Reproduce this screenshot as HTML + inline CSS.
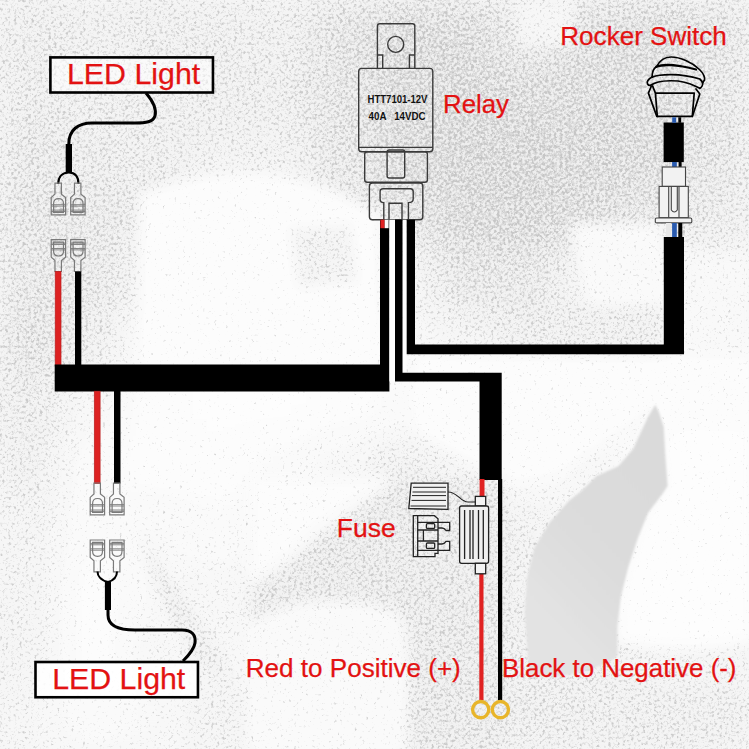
<!DOCTYPE html>
<html><head><meta charset="utf-8">
<style>
html,body{margin:0;padding:0;background:#fff;width:749px;height:749px;overflow:hidden}
svg{position:absolute;left:0;top:0;display:block}
text{font-family:"Liberation Sans",sans-serif}
</style></head><body>
<svg width="749" height="749" viewBox="0 0 749 749">
<defs>
  <linearGradient id="mtn" gradientUnits="userSpaceOnUse" x1="525" y1="600" x2="650" y2="480"><stop offset="0" stop-color="#e3e3e3"/><stop offset="0.5" stop-color="#dcdcdc"/><stop offset="1" stop-color="#dadada"/></linearGradient>
  <filter id="blur6" x="-20%" y="-20%" width="140%" height="140%"><feGaussianBlur stdDeviation="6"/></filter>
  <filter id="blur1" x="-20%" y="-20%" width="140%" height="140%"><feGaussianBlur stdDeviation="1.2"/></filter>
  <filter id="blur4" x="-20%" y="-20%" width="140%" height="140%"><feGaussianBlur stdDeviation="4"/></filter>
  <filter id="tex" x="0" y="0" width="749" height="749" filterUnits="userSpaceOnUse" color-interpolation-filters="sRGB">
    <feColorMatrix in="SourceGraphic" type="matrix" values="-1 0 0 0 1  0 -1 0 0 1  0 0 -1 0 1  0 0 0 0 1" result="dark"/>
    <feTurbulence type="fractalNoise" baseFrequency="0.35" numOctaves="4" seed="7" result="noise"/>
    <feColorMatrix in="noise" type="matrix" values="0.33 0.33 0.33 0 0  0.33 0.33 0.33 0 0  0.33 0.33 0.33 0 0  0 0 0 0 1" result="ng"/>
    <feComposite in="ng" in2="dark" operator="arithmetic" k1="0" k2="6" k3="9.600" k4="-3.780" result="spot"/>
    <feComposite in="spot" in2="dark" operator="arithmetic" k1="0" k2="0.2424" k3="0.7576" k4="0" result="dd"/>
    <feColorMatrix in="dd" type="matrix" values="-0.660 0 0 0 1  0 -0.660 0 0 1  0 0 -0.660 0 1  0 0 0 0 1"/>
  </filter>

  <filter id="blurbg" x="-20%" y="-20%" width="140%" height="140%"><feGaussianBlur stdDeviation="18"/></filter>
  <filter id="blur2" x="-20%" y="-20%" width="140%" height="140%"><feGaussianBlur stdDeviation="2"/></filter>
  <filter id="blur8" x="-10%" y="-10%" width="120%" height="120%"><feGaussianBlur stdDeviation="8"/></filter>
</defs>
<rect x="0" y="0" width="749" height="749" fill="#fff"/>
<g id="bg" filter="url(#tex)">
<rect x="-60" y="-60" width="869" height="869" fill="#eee"/>
<g filter="url(#blurbg)">
<rect x="-0.5" y="-0.5" width="63.4" height="63.4" fill="#e7e7e7"/>
<rect x="61.9" y="-0.5" width="63.4" height="63.4" fill="#e9e9e9"/>
<rect x="124.3" y="-0.5" width="63.4" height="63.4" fill="#e8e8e8"/>
<rect x="186.8" y="-0.5" width="63.4" height="63.4" fill="#e8e8e8"/>
<rect x="249.2" y="-0.5" width="63.4" height="63.4" fill="#e9e9e9"/>
<rect x="311.6" y="-0.5" width="63.4" height="63.4" fill="#e3e3e3"/>
<rect x="374.0" y="-0.5" width="63.4" height="63.4" fill="#dfdfdf"/>
<rect x="436.4" y="-0.5" width="63.4" height="63.4" fill="#e0e0e0"/>
<rect x="498.8" y="-0.5" width="63.4" height="63.4" fill="#e7e7e7"/>
<rect x="561.2" y="-0.5" width="63.4" height="63.4" fill="#e1e1e1"/>
<rect x="623.7" y="-0.5" width="63.4" height="63.4" fill="#e0e0e0"/>
<rect x="686.1" y="-0.5" width="63.4" height="63.4" fill="#e3e3e3"/>
<rect x="-0.5" y="61.9" width="63.4" height="63.4" fill="#e7e7e7"/>
<rect x="61.9" y="61.9" width="63.4" height="63.4" fill="#e8e8e8"/>
<rect x="124.3" y="61.9" width="63.4" height="63.4" fill="#e8e8e8"/>
<rect x="186.8" y="61.9" width="63.4" height="63.4" fill="#e8e8e8"/>
<rect x="249.2" y="61.9" width="63.4" height="63.4" fill="#e8e8e8"/>
<rect x="311.6" y="61.9" width="63.4" height="63.4" fill="#e3e3e3"/>
<rect x="374.0" y="61.9" width="63.4" height="63.4" fill="#dfdfdf"/>
<rect x="436.4" y="61.9" width="63.4" height="63.4" fill="#dfdfdf"/>
<rect x="498.8" y="61.9" width="63.4" height="63.4" fill="#e0e0e0"/>
<rect x="561.2" y="61.9" width="63.4" height="63.4" fill="#e0e0e0"/>
<rect x="623.7" y="61.9" width="63.4" height="63.4" fill="#e0e0e0"/>
<rect x="686.1" y="61.9" width="63.4" height="63.4" fill="#e4e4e4"/>
<rect x="-0.5" y="124.3" width="63.4" height="63.4" fill="#e5e5e5"/>
<rect x="61.9" y="124.3" width="63.4" height="63.4" fill="#e7e7e7"/>
<rect x="124.3" y="124.3" width="63.4" height="63.4" fill="#e8e8e8"/>
<rect x="186.8" y="124.3" width="63.4" height="63.4" fill="#ebebeb"/>
<rect x="249.2" y="124.3" width="63.4" height="63.4" fill="#ebebeb"/>
<rect x="311.6" y="124.3" width="63.4" height="63.4" fill="#e4e4e4"/>
<rect x="374.0" y="124.3" width="63.4" height="63.4" fill="#dfdfdf"/>
<rect x="436.4" y="124.3" width="63.4" height="63.4" fill="#dedede"/>
<rect x="498.8" y="124.3" width="63.4" height="63.4" fill="#dedede"/>
<rect x="561.2" y="124.3" width="63.4" height="63.4" fill="#dfdfdf"/>
<rect x="623.7" y="124.3" width="63.4" height="63.4" fill="#e0e0e0"/>
<rect x="686.1" y="124.3" width="63.4" height="63.4" fill="#e4e4e4"/>
<rect x="-0.5" y="186.8" width="63.4" height="63.4" fill="#e4e4e4"/>
<rect x="61.9" y="186.8" width="63.4" height="63.4" fill="#e5e5e5"/>
<rect x="124.3" y="186.8" width="63.4" height="63.4" fill="#e8e8e8"/>
<rect x="186.8" y="186.8" width="63.4" height="63.4" fill="#f3f3f3"/>
<rect x="249.2" y="186.8" width="63.4" height="63.4" fill="#f3f3f3"/>
<rect x="311.6" y="186.8" width="63.4" height="63.4" fill="#e7e7e7"/>
<rect x="374.0" y="186.8" width="63.4" height="63.4" fill="#e3e3e3"/>
<rect x="436.4" y="186.8" width="63.4" height="63.4" fill="#dfdfdf"/>
<rect x="498.8" y="186.8" width="63.4" height="63.4" fill="#dfdfdf"/>
<rect x="561.2" y="186.8" width="63.4" height="63.4" fill="#e1e1e1"/>
<rect x="623.7" y="186.8" width="63.4" height="63.4" fill="#e4e4e4"/>
<rect x="686.1" y="186.8" width="63.4" height="63.4" fill="#e7e7e7"/>
<rect x="-0.5" y="249.2" width="63.4" height="63.4" fill="#e4e4e4"/>
<rect x="61.9" y="249.2" width="63.4" height="63.4" fill="#e5e5e5"/>
<rect x="124.3" y="249.2" width="63.4" height="63.4" fill="#ededed"/>
<rect x="186.8" y="249.2" width="63.4" height="63.4" fill="#f9f9f9"/>
<rect x="249.2" y="249.2" width="63.4" height="63.4" fill="#f6f6f6"/>
<rect x="311.6" y="249.2" width="63.4" height="63.4" fill="#ebebeb"/>
<rect x="374.0" y="249.2" width="63.4" height="63.4" fill="#ededed"/>
<rect x="436.4" y="249.2" width="63.4" height="63.4" fill="#e4e4e4"/>
<rect x="498.8" y="249.2" width="63.4" height="63.4" fill="#e5e5e5"/>
<rect x="561.2" y="249.2" width="63.4" height="63.4" fill="#efefef"/>
<rect x="623.7" y="249.2" width="63.4" height="63.4" fill="#f3f3f3"/>
<rect x="686.1" y="249.2" width="63.4" height="63.4" fill="#f1f1f1"/>
<rect x="-0.5" y="311.6" width="63.4" height="63.4" fill="#e3e3e3"/>
<rect x="61.9" y="311.6" width="63.4" height="63.4" fill="#e8e8e8"/>
<rect x="124.3" y="311.6" width="63.4" height="63.4" fill="#f6f6f6"/>
<rect x="186.8" y="311.6" width="63.4" height="63.4" fill="#fbfbfb"/>
<rect x="249.2" y="311.6" width="63.4" height="63.4" fill="#f9f9f9"/>
<rect x="311.6" y="311.6" width="63.4" height="63.4" fill="#f9f9f9"/>
<rect x="374.0" y="311.6" width="63.4" height="63.4" fill="#f3f3f3"/>
<rect x="436.4" y="311.6" width="63.4" height="63.4" fill="#ededed"/>
<rect x="498.8" y="311.6" width="63.4" height="63.4" fill="#e8e8e8"/>
<rect x="561.2" y="311.6" width="63.4" height="63.4" fill="#e8e8e8"/>
<rect x="623.7" y="311.6" width="63.4" height="63.4" fill="#f1f1f1"/>
<rect x="686.1" y="311.6" width="63.4" height="63.4" fill="#f6f6f6"/>
<rect x="-0.5" y="374.0" width="63.4" height="63.4" fill="#e7e7e7"/>
<rect x="61.9" y="374.0" width="63.4" height="63.4" fill="#f1f1f1"/>
<rect x="124.3" y="374.0" width="63.4" height="63.4" fill="#f9f9f9"/>
<rect x="186.8" y="374.0" width="63.4" height="63.4" fill="#fbfbfb"/>
<rect x="249.2" y="374.0" width="63.4" height="63.4" fill="#fbfbfb"/>
<rect x="311.6" y="374.0" width="63.4" height="63.4" fill="#f9f9f9"/>
<rect x="374.0" y="374.0" width="63.4" height="63.4" fill="#f6f6f6"/>
<rect x="436.4" y="374.0" width="63.4" height="63.4" fill="#f6f6f6"/>
<rect x="498.8" y="374.0" width="63.4" height="63.4" fill="#f6f6f6"/>
<rect x="561.2" y="374.0" width="63.4" height="63.4" fill="#f6f6f6"/>
<rect x="623.7" y="374.0" width="63.4" height="63.4" fill="#f3f3f3"/>
<rect x="686.1" y="374.0" width="63.4" height="63.4" fill="#f6f6f6"/>
<rect x="-0.5" y="436.4" width="63.4" height="63.4" fill="#e9e9e9"/>
<rect x="61.9" y="436.4" width="63.4" height="63.4" fill="#f6f6f6"/>
<rect x="124.3" y="436.4" width="63.4" height="63.4" fill="#f9f9f9"/>
<rect x="186.8" y="436.4" width="63.4" height="63.4" fill="#f9f9f9"/>
<rect x="249.2" y="436.4" width="63.4" height="63.4" fill="#f6f6f6"/>
<rect x="311.6" y="436.4" width="63.4" height="63.4" fill="#f1f1f1"/>
<rect x="374.0" y="436.4" width="63.4" height="63.4" fill="#e9e9e9"/>
<rect x="436.4" y="436.4" width="63.4" height="63.4" fill="#efefef"/>
<rect x="498.8" y="436.4" width="63.4" height="63.4" fill="#f6f6f6"/>
<rect x="561.2" y="436.4" width="63.4" height="63.4" fill="#f1f1f1"/>
<rect x="623.7" y="436.4" width="63.4" height="63.4" fill="#f6f6f6"/>
<rect x="686.1" y="436.4" width="63.4" height="63.4" fill="#f9f9f9"/>
<rect x="-0.5" y="498.8" width="63.4" height="63.4" fill="#ededed"/>
<rect x="61.9" y="498.8" width="63.4" height="63.4" fill="#f6f6f6"/>
<rect x="124.3" y="498.8" width="63.4" height="63.4" fill="#f3f3f3"/>
<rect x="186.8" y="498.8" width="63.4" height="63.4" fill="#f6f6f6"/>
<rect x="249.2" y="498.8" width="63.4" height="63.4" fill="#f3f3f3"/>
<rect x="311.6" y="498.8" width="63.4" height="63.4" fill="#ededed"/>
<rect x="374.0" y="498.8" width="63.4" height="63.4" fill="#e5e5e5"/>
<rect x="436.4" y="498.8" width="63.4" height="63.4" fill="#e8e8e8"/>
<rect x="498.8" y="498.8" width="63.4" height="63.4" fill="#ebebeb"/>
<rect x="561.2" y="498.8" width="63.4" height="63.4" fill="#efefef"/>
<rect x="623.7" y="498.8" width="63.4" height="63.4" fill="#f9f9f9"/>
<rect x="686.1" y="498.8" width="63.4" height="63.4" fill="#fbfbfb"/>
<rect x="-0.5" y="561.2" width="63.4" height="63.4" fill="#ededed"/>
<rect x="61.9" y="561.2" width="63.4" height="63.4" fill="#f9f9f9"/>
<rect x="124.3" y="561.2" width="63.4" height="63.4" fill="#f3f3f3"/>
<rect x="186.8" y="561.2" width="63.4" height="63.4" fill="#f1f1f1"/>
<rect x="249.2" y="561.2" width="63.4" height="63.4" fill="#efefef"/>
<rect x="311.6" y="561.2" width="63.4" height="63.4" fill="#e8e8e8"/>
<rect x="374.0" y="561.2" width="63.4" height="63.4" fill="#e7e7e7"/>
<rect x="436.4" y="561.2" width="63.4" height="63.4" fill="#e7e7e7"/>
<rect x="498.8" y="561.2" width="63.4" height="63.4" fill="#ebebeb"/>
<rect x="561.2" y="561.2" width="63.4" height="63.4" fill="#f1f1f1"/>
<rect x="623.7" y="561.2" width="63.4" height="63.4" fill="#f9f9f9"/>
<rect x="686.1" y="561.2" width="63.4" height="63.4" fill="#f9f9f9"/>
<rect x="-0.5" y="623.7" width="63.4" height="63.4" fill="#ededed"/>
<rect x="61.9" y="623.7" width="63.4" height="63.4" fill="#f9f9f9"/>
<rect x="124.3" y="623.7" width="63.4" height="63.4" fill="#f1f1f1"/>
<rect x="186.8" y="623.7" width="63.4" height="63.4" fill="#efefef"/>
<rect x="249.2" y="623.7" width="63.4" height="63.4" fill="#f6f6f6"/>
<rect x="311.6" y="623.7" width="63.4" height="63.4" fill="#f3f3f3"/>
<rect x="374.0" y="623.7" width="63.4" height="63.4" fill="#e9e9e9"/>
<rect x="436.4" y="623.7" width="63.4" height="63.4" fill="#e7e7e7"/>
<rect x="498.8" y="623.7" width="63.4" height="63.4" fill="#e8e8e8"/>
<rect x="561.2" y="623.7" width="63.4" height="63.4" fill="#e9e9e9"/>
<rect x="623.7" y="623.7" width="63.4" height="63.4" fill="#ededed"/>
<rect x="686.1" y="623.7" width="63.4" height="63.4" fill="#ededed"/>
<rect x="-0.5" y="686.1" width="63.4" height="63.4" fill="#efefef"/>
<rect x="61.9" y="686.1" width="63.4" height="63.4" fill="#f6f6f6"/>
<rect x="124.3" y="686.1" width="63.4" height="63.4" fill="#f3f3f3"/>
<rect x="186.8" y="686.1" width="63.4" height="63.4" fill="#ebebeb"/>
<rect x="249.2" y="686.1" width="63.4" height="63.4" fill="#f1f1f1"/>
<rect x="311.6" y="686.1" width="63.4" height="63.4" fill="#efefef"/>
<rect x="374.0" y="686.1" width="63.4" height="63.4" fill="#e9e9e9"/>
<rect x="436.4" y="686.1" width="63.4" height="63.4" fill="#e7e7e7"/>
<rect x="498.8" y="686.1" width="63.4" height="63.4" fill="#e7e7e7"/>
<rect x="561.2" y="686.1" width="63.4" height="63.4" fill="#e8e8e8"/>
<rect x="623.7" y="686.1" width="63.4" height="63.4" fill="#e8e8e8"/>
<rect x="686.1" y="686.1" width="63.4" height="63.4" fill="#e8e8e8"/>
</g>
<g filter="url(#blur6)">
<path d="M140,195 C200,170 270,168 330,190 L380,215 L380,364 L140,364 Z" fill="#f9f9f9"/>
<path d="M290,228 L350,224 L358,282 L298,288 Z" fill="#ebebeb"/>
<path d="M572,225 L663,225 L663,344 L600,344 C590,300 575,260 572,225 Z" fill="#f5f5f5"/>
<path d="M548,305 L664,305 L664,382 L557,382 Z" fill="#e9e9e9"/>
<path d="M684,255 L752,255 L752,470 L684,470 Z" fill="#f3f3f3"/>
<path d="M415,356 L752,356 L752,440 L662,440 L655,405 L560,472 L505,482 L415,430 Z" fill="#f9f9f9"/>
<path d="M393,478 L505,478 L505,752 L410,752 L408,652 C400,616 360,596 300,602 L250,624 L250,585 C270,575 290,562 300,550 C330,520 370,500 393,478 Z" fill="#e6e6e6"/>
<path d="M250,624 C300,600 360,596 400,616 C410,650 406,700 404,752 L250,752 Z" fill="#f6f6f6"/>
<path d="M250,478 L393,478 C370,500 330,520 300,550 L250,585 Z" fill="#f8f8f8"/>
<path d="M145.5,539.3 L158,559 L186.8,602 L215.5,648.8 L229.9,681 L201,666.8 L172.4,623.7 L150.9,573.4 Z" fill="#e8e8e8"/>
<path d="M660,450 C665,420 700,430 752,430 L752,640 C720,650 650,650 617,640 L620,597 L628,567 L648,513 L667,486 Z" fill="#fbfbfb"/>
<path d="M515,0 L575,0 L570,45 L520,45 Z" fill="#efefef"/>
</g>
</g>
<path d="M655.3,404.7 L658.8,412 L663.7,426.8 L665.2,454 L667.6,486 L662.7,493.4 L648,513 L638,537.8 L628.2,567.4 L620.8,597 L617.4,626.5 L617.4,656 C600,670 560,680 529.6,675.9 L527.1,646.3 L524.7,611.8 L527.1,577.2 L534.5,547.7 L549.3,523 L569,500.8 L581.4,491 L596.2,476.2 L618.3,466.3 L633.1,449 L648,417 Z" fill="url(#mtn)" filter="url(#blur1)"/>

<!-- TOP LED -->
<rect x="50.4" y="57.4" width="162.55" height="35.1" fill="#fff" fill-opacity="0.55" stroke="#000" stroke-width="2.6"/>
<text x="67" y="84.2" font-size="30" fill="#e31212" stroke="#e31212" stroke-width="0.25" textLength="133.2" lengthAdjust="spacingAndGlyphs">LED Light</text>
<path d="M146,93 C152,100 157,108 155,116 C153,122 146,123 135,123 L92,123 C78,123 68.8,130 68.8,144 L68.8,172" fill="none" stroke="#000" stroke-width="3"/>
<rect x="65.7" y="144" width="6.3" height="28" fill="#000"/>
<path d="M58.2,184 C58.2,176 63,172.5 68.8,172.5 C74.5,172.5 78.5,176 78.5,184" fill="none" stroke="#000" stroke-width="2"/>
<g transform="translate(51.2,183.1)">
    <path d="M3.75,0 L10.2,0 L10.2,11 L14.4,14.4 L14.4,31.8 L0,31.8 L0,14.4 L3.75,11 Z" fill="none" stroke="#7a7a7a" stroke-width="1.2"/>
    <path d="M2.4,29.4 L2.4,20.5 Q2.4,15.5 7.35,15.5 Q12.3,15.5 12.3,20.5 L12.3,29.4 Z" fill="none" stroke="#7a7a7a" stroke-width="1.2"/>
    <path d="M0,21.6 L14.4,21.6 M0,23 L14.4,23 M0,27 L14.4,27 M0,28.4 L14.4,28.4" stroke="#7a7a7a" stroke-width="0.9"/>
</g>
<g transform="translate(70.7,183.1)">
    <path d="M3.75,0 L10.2,0 L10.2,11 L14.4,14.4 L14.4,31.8 L0,31.8 L0,14.4 L3.75,11 Z" fill="none" stroke="#7a7a7a" stroke-width="1.2"/>
    <path d="M2.4,29.4 L2.4,20.5 Q2.4,15.5 7.35,15.5 Q12.3,15.5 12.3,20.5 L12.3,29.4 Z" fill="none" stroke="#7a7a7a" stroke-width="1.2"/>
    <path d="M0,21.6 L14.4,21.6 M0,23 L14.4,23 M0,27 L14.4,27 M0,28.4 L14.4,28.4" stroke="#7a7a7a" stroke-width="0.9"/>
</g>

<!-- connectors above bar (pointing up: wide part on top) -->
<g transform="translate(51.2,271.5) scale(1,-1)">
    <path d="M3.75,0 L10.2,0 L10.2,11 L14.4,14.4 L14.4,31.8 L0,31.8 L0,14.4 L3.75,11 Z" fill="none" stroke="#7a7a7a" stroke-width="1.2"/>
    <path d="M2.4,29.4 L2.4,20.5 Q2.4,15.5 7.35,15.5 Q12.3,15.5 12.3,20.5 L12.3,29.4 Z" fill="none" stroke="#7a7a7a" stroke-width="1.2"/>
    <path d="M0,21.6 L14.4,21.6 M0,23 L14.4,23 M0,27 L14.4,27 M0,28.4 L14.4,28.4" stroke="#7a7a7a" stroke-width="0.9"/>
</g>
<g transform="translate(70.7,271.5) scale(1,-1)">
    <path d="M3.75,0 L10.2,0 L10.2,11 L14.4,14.4 L14.4,31.8 L0,31.8 L0,14.4 L3.75,11 Z" fill="none" stroke="#7a7a7a" stroke-width="1.2"/>
    <path d="M2.4,29.4 L2.4,20.5 Q2.4,15.5 7.35,15.5 Q12.3,15.5 12.3,20.5 L12.3,29.4 Z" fill="none" stroke="#7a7a7a" stroke-width="1.2"/>
    <path d="M0,21.6 L14.4,21.6 M0,23 L14.4,23 M0,27 L14.4,27 M0,28.4 L14.4,28.4" stroke="#7a7a7a" stroke-width="0.9"/>
</g>
<rect x="55.2" y="271.4" width="5.8" height="93.5" fill="#dd2222" stroke="#b82020" stroke-width="0.7"/>
<rect x="75" y="271.5" width="6.3" height="93.5" fill="#000"/>

<!-- main bar -->
<path d="M54.7,364.5 L380,364.5 L380,219.7 L389.4,219.7 L389.4,391.5 L54.7,391.5 Z" fill="#000"/>

<!-- lower left wires -->
<rect x="94.3" y="391.2" width="5.8" height="92.3" fill="#dd2222" stroke="#b82020" stroke-width="0.7"/>
<rect x="114" y="391" width="6.5" height="92.5" fill="#000"/>
<g transform="translate(90.2,483)">
    <path d="M3.75,0 L10.2,0 L10.2,11 L14.4,14.4 L14.4,31.8 L0,31.8 L0,14.4 L3.75,11 Z" fill="none" stroke="#7a7a7a" stroke-width="1.2"/>
    <path d="M2.4,29.4 L2.4,20.5 Q2.4,15.5 7.35,15.5 Q12.3,15.5 12.3,20.5 L12.3,29.4 Z" fill="none" stroke="#7a7a7a" stroke-width="1.2"/>
    <path d="M0,21.6 L14.4,21.6 M0,23 L14.4,23 M0,27 L14.4,27 M0,28.4 L14.4,28.4" stroke="#7a7a7a" stroke-width="0.9"/>
</g>
<g transform="translate(109.7,483)">
    <path d="M3.75,0 L10.2,0 L10.2,11 L14.4,14.4 L14.4,31.8 L0,31.8 L0,14.4 L3.75,11 Z" fill="none" stroke="#7a7a7a" stroke-width="1.2"/>
    <path d="M2.4,29.4 L2.4,20.5 Q2.4,15.5 7.35,15.5 Q12.3,15.5 12.3,20.5 L12.3,29.4 Z" fill="none" stroke="#7a7a7a" stroke-width="1.2"/>
    <path d="M0,21.6 L14.4,21.6 M0,23 L14.4,23 M0,27 L14.4,27 M0,28.4 L14.4,28.4" stroke="#7a7a7a" stroke-width="0.9"/>
</g>
<g transform="translate(90.2,571.8) scale(1,-1)">
    <path d="M3.75,0 L10.2,0 L10.2,11 L14.4,14.4 L14.4,31.8 L0,31.8 L0,14.4 L3.75,11 Z" fill="none" stroke="#7a7a7a" stroke-width="1.2"/>
    <path d="M2.4,29.4 L2.4,20.5 Q2.4,15.5 7.35,15.5 Q12.3,15.5 12.3,20.5 L12.3,29.4 Z" fill="none" stroke="#7a7a7a" stroke-width="1.2"/>
    <path d="M0,21.6 L14.4,21.6 M0,23 L14.4,23 M0,27 L14.4,27 M0,28.4 L14.4,28.4" stroke="#7a7a7a" stroke-width="0.9"/>
</g>
<g transform="translate(109.7,571.8) scale(1,-1)">
    <path d="M3.75,0 L10.2,0 L10.2,11 L14.4,14.4 L14.4,31.8 L0,31.8 L0,14.4 L3.75,11 Z" fill="none" stroke="#7a7a7a" stroke-width="1.2"/>
    <path d="M2.4,29.4 L2.4,20.5 Q2.4,15.5 7.35,15.5 Q12.3,15.5 12.3,20.5 L12.3,29.4 Z" fill="none" stroke="#7a7a7a" stroke-width="1.2"/>
    <path d="M0,21.6 L14.4,21.6 M0,23 L14.4,23 M0,27 L14.4,27 M0,28.4 L14.4,28.4" stroke="#7a7a7a" stroke-width="0.9"/>
</g>
<!-- RELAY -->
<g fill="none" stroke="#3a3a3a" stroke-width="1.4">
  <path d="M377.4,68.4 L377.4,26 Q377.4,23.7 379.7,23.7 L412.5,23.7 Q414.8,23.7 414.8,26 L414.8,68.4"/>
  <circle cx="395.7" cy="44.4" r="8"/>
  <path d="M377.4,55 L382.7,55 L382.7,68.4 M414.8,55 L409.4,55 L409.4,68.4"/>
  <rect x="358.7" y="68.4" width="74.1" height="83.3" rx="3"/>
  <path d="M358.7,147.4 L432.8,147.4"/>
  <rect x="364.7" y="151.7" width="62.7" height="30.5" rx="2.5"/>
  <rect x="387.1" y="150" width="17.6" height="28" rx="2"/>
  <rect x="369.4" y="183" width="53.4" height="36.7" rx="3"/>
  <path d="M383.8,219.7 L383.8,202.6 Q380.1,202.6 380.1,199 L380.1,191.5 Q380.1,188.7 383,188.7 L410.4,188.7 Q413.2,188.7 413.2,191.5 L413.2,199 Q413.2,202.6 408.4,202.6 L408.4,219.7"/>
  <path d="M389,219.7 L389,203.3 L402,203.3 L402,219.7"/>
</g>
<text x="367.5" y="103.1" font-size="10.2" font-weight="bold" fill="#111" textLength="60" lengthAdjust="spacingAndGlyphs">HTT7101-12V</text>
<text x="368.6" y="120" font-size="10.2" font-weight="bold" fill="#111" textLength="57" lengthAdjust="spacingAndGlyphs" xml:space="preserve">40A   14VDC</text>

<!-- relay wires -->
<rect x="389.4" y="219.7" width="5.6" height="161.7" fill="#fdfdfd"/>
<rect x="402.5" y="219.7" width="4.2" height="153" fill="#fdfdfd"/>
<rect x="380.4" y="219.7" width="4.3" height="8.5" fill="#e02222"/>
<rect x="384.7" y="219.7" width="3.9" height="8.5" fill="#fbfbfb"/>
<path d="M395,219.7 L402.5,219.7 L402.5,372.7 L501.7,372.7 L501.7,479.9 L479.5,479.9 L479.5,381.4 L395,381.4 Z" fill="#000"/>
<path d="M406.7,219.7 L415,219.7 L415,344.4 L663.8,344.4 L663.8,237 L684,237 L684,354.2 L406.7,354.2 Z" fill="#000"/>

<!-- fuse branch wires -->
<rect x="479.6" y="479" width="4.9" height="18" fill="#e02222"/>
<rect x="479.3" y="573" width="4.2" height="127.3" fill="#e02222"/>
<rect x="498" y="479" width="4.2" height="221.3" fill="#000"/>
<circle cx="480.7" cy="709.6" r="8.1" fill="none" stroke="#e8b52a" stroke-width="3.4"/>
<circle cx="500.4" cy="709.6" r="8.1" fill="none" stroke="#e8b52a" stroke-width="3.4"/>

<!-- FUSE -->
<g fill="none" stroke="#222" stroke-width="1.3">
  <rect x="475.3" y="496.4" width="10.4" height="9.6" fill="#f4f4f4"/>
  <rect x="459.6" y="506" width="29" height="57.3" rx="2" fill="#f0f0f0"/>
  <path d="M464.6,510 L464.6,559 M470,510 L470,559 M473,510 L473,559 M478.5,510 L478.5,559 M483.3,510 L483.3,559"/>
  <rect x="475.3" y="563.3" width="10.4" height="10.5" fill="#f4f4f4"/>
  <path d="M411.2,483.1 L448,483.1 L448,509.3 L408.8,508.5 Z" fill="#f2f2f2"/>
  <path d="M413,487.3 L446,487.3 M412.5,492 L446,492 M412,495.6 L446,495.6 M411.5,500.4 L446,500.4 M410.5,506 L446,506" stroke-width="1"/>
  <path d="M448,492 C458,492 460,502 468,502 L475.3,502" stroke-width="1.2"/>
  <path d="M413.3,515.7 L434.4,515.7 L438,518.7 L438,553.4 L435,553.4 L435,556.7 L413.3,556.7 Z"/>
  <path d="M417.7,515.7 L417.7,556.7"/>
  <path d="M417.7,522.3 L449.7,522.3 L449.7,530.5 L446,530.5 Q444.4,528 442,528 L438,528 M417.7,530 L438,530"/>
  <path d="M417.7,550.4 L449.7,550.4 L449.7,541.4 L446,541.4 Q444.4,544 442,544 L438,544 M417.7,541 L438,541"/>
  <path d="M423.4,530 L423.4,541"/>
  <rect x="426.4" y="523.7" width="8.3" height="4.7" rx="1"/>
  <rect x="426.4" y="543" width="8.3" height="5.4" rx="1"/>
</g>

<!-- ROCKER SWITCH -->
<g fill="none" stroke="#000" stroke-width="1.7" stroke-linejoin="round" stroke-linecap="round">
  <path d="M656.4,66.8 C660,60 665,57 671,57 C680,57 692,62 699.5,69.5 C703,73 705,77 704.5,80 L702.6,82.7"/>
  <path d="M656.4,66.8 C662,64.2 676,64.2 696,69.5" stroke-width="2.3"/>
  <path d="M656.4,66.8 C653,69 652,73 652.1,77.1"/>
  <path d="M652.1,77.1 C660,74 680,73 699.8,79 C701,80 702,81 702.6,82.7"/>
  <path d="M652.1,77.1 C648,79 646.5,82 647.5,84 C648,85 649.5,85.5 650.3,85.5"/>
  <path d="M650.3,85.5 C658,80 680,78 696,86.4 L699.8,88.3"/>
  <path d="M702.6,82.7 C703,85 701.5,87.5 699.8,88.3"/>
  <path d="M651.2,86.5 L648.4,93.1 L656.8,116.4 L692.3,116.4 L699.8,94 L696,88.9"/>
  <path d="M652.6,86 L655.4,93.1 L657.3,116.4 M694.2,93.1 L692.3,116.4 M655.4,93.1 L694.2,93.1"/>
</g>
<rect x="663.6" y="122.5" width="20.2" height="39.6" fill="#000"/>
<rect x="672.2" y="117.3" width="3.9" height="5.5" fill="#2a5bb0"/>
<rect x="678.3" y="117.3" width="2.9" height="5.5" fill="#000"/>
<rect x="672.1" y="162" width="4.7" height="5.5" fill="#2a5bb0"/>
<rect x="678.6" y="162" width="3" height="5.5" fill="#000"/>
<g fill="#f2f2f2" stroke="#444" stroke-width="1.1">
  <rect x="662.2" y="167" width="23.3" height="19.4"/>
  <rect x="659.1" y="186.4" width="29.2" height="31.3"/>
  <path d="M668.7,186.4 L668.7,217.7 M679,186.4 L679,217.7" fill="none"/>
  <path d="M671.3,186.4 L671.3,210 Q674.3,214 677.3,210 L677.3,186.4" fill="none"/>
  <rect x="655.3" y="218" width="36.5" height="4.9" rx="1.5"/>
</g>
<rect x="666" y="223" width="5.3" height="14" fill="#e8e8e8"/>
<rect x="672.1" y="223" width="4.7" height="14" fill="#2a5bb0"/>
<rect x="678.3" y="223" width="4" height="14" fill="#000"/>

<!-- BOTTOM LED -->
<path d="M108,582 C100,580 97.5,575 97.5,571.5 M117,571.5 C117,575 115,580 108,582" fill="none" stroke="#000" stroke-width="2"/>
<rect x="104.9" y="582" width="6.1" height="28" fill="#000"/>
<path d="M108,610 L108,615 C108,626 118,630 135,630 L182,630 C192,630 196,635 195,643 C194,650 188,656 183,661" fill="none" stroke="#000" stroke-width="3"/>
<rect x="35.5" y="662" width="162.45" height="35.25" fill="#fff" fill-opacity="0.85" stroke="#000" stroke-width="2.6"/>
<text x="52.2" y="688.9" font-size="29.5" fill="#e31212" stroke="#e31212" stroke-width="0.25" textLength="133.1" lengthAdjust="spacingAndGlyphs">LED Light</text>

<!-- LABELS -->
<text x="443" y="112.6" font-size="25.5" fill="#e31212" stroke="#e31212" stroke-width="0.25" textLength="66" lengthAdjust="spacingAndGlyphs">Relay</text>
<text x="560.3" y="45" font-size="25.5" fill="#e31212" stroke="#e31212" stroke-width="0.25" textLength="166.5" lengthAdjust="spacingAndGlyphs">Rocker Switch</text>
<text x="336.7" y="536.8" font-size="25.5" fill="#e31212" stroke="#e31212" stroke-width="0.25" textLength="59" lengthAdjust="spacingAndGlyphs">Fuse</text>
<text x="245.8" y="676.5" font-size="25.5" fill="#e31212" stroke="#e31212" stroke-width="0.25" textLength="215" lengthAdjust="spacingAndGlyphs">Red to Positive (+)</text>
<text x="502" y="676.7" font-size="25.5" fill="#e31212" stroke="#e31212" stroke-width="0.25" textLength="234.5" lengthAdjust="spacingAndGlyphs">Black to Negative (-)</text>
</svg>
</body></html>
